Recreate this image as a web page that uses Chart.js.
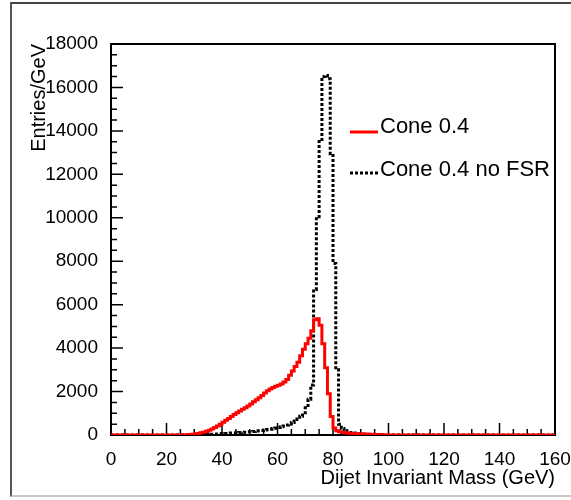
<!DOCTYPE html>
<html>
<head>
<meta charset="utf-8">
<script src="https://cdn.jsdelivr.net/npm/chart.js@4.4.0/dist/chart.umd.min.js"></script>
<style>
  body { margin: 0; background: #fff; }
  #wrap { position: relative; width: 571px; height: 500px; overflow: hidden; }
  #frame { position: absolute; left: 10px; top: 2px; width: 600px; height: 491px;
           border-left: 2px solid #555; border-top: 2px solid #444; border-bottom: 2px solid #c8c8c8; }
  #massChart { position: absolute; left: 0; top: 0; }
</style>
</head>
<body>
<div id="wrap">
  <div id="frame"></div>
  <canvas id="massChart" width="571" height="500"></canvas>
</div>
<script>
// histogram: 1 GeV bins from 0 to 160, value = entries per GeV in that bin
const xMin = 0, xMax = 160, binWidth = 1;
const yMin = 0, yMax = 18000;

const coneValues = [
  0, 0, 0, 0, 0, 0, 0, 0, 0, 0,
  0, 0, 0, 0, 0, 0, 0, 0, 0, 0,
  0, 0, 0, 0, 0, 5, 10, 15, 20, 30,
  50, 70, 100, 130, 170, 220, 280, 340, 420, 500,
  590, 680, 760, 850, 940, 1020, 1100, 1180, 1260, 1340,
  1430, 1530, 1620, 1720, 1820, 1930, 2040, 2120, 2190, 2240,
  2290, 2350, 2440, 2550, 2750, 2950, 3150, 3350, 3650, 3950,
  4200, 4450, 4800, 5300, 5350, 5050, 4200, 3100, 1900, 850,
  320, 200, 150, 120, 100, 90, 80, 70, 60, 55,
  50, 45, 40, 35, 30, 25, 20, 15, 10, 10,
  5, 5, 0, 0, 0, 0, 0, 0, 0, 0,
  0, 0, 0, 0, 0, 0, 0, 0, 0, 0,
  0, 0, 0, 0, 0, 0, 0, 0, 0, 0,
  0, 0, 0, 0, 0, 0, 0, 0, 0, 0,
  0, 0, 0, 0, 0, 0, 0, 0, 0, 0,
  0, 0, 0, 0, 0, 0, 0, 0, 0, 0
];

const noFsrValues = [
  0, 0, 0, 0, 0, 0, 0, 0, 0, 0,
  0, 0, 0, 0, 0, 0, 0, 0, 0, 0,
  0, 0, 0, 0, 0, 0, 0, 0, 5, 5,
  10, 15, 20, 25, 30, 35, 40, 45, 50, 60,
  65, 70, 80, 90, 95, 100, 110, 120, 130, 145,
  155, 165, 180, 195, 210, 230, 250, 270, 295, 320,
  350, 380, 420, 460, 510, 570, 640, 740, 860, 1020,
  1250, 1650, 2300, 6700, 10050, 13600, 16500, 16550, 16400, 12950,
  7900, 3000, 500, 300, 200, 150, 110, 90, 70, 55,
  45, 35, 30, 25, 20, 15, 10, 10, 5, 5,
  0, 0, 0, 0, 0, 0, 0, 0, 0, 0,
  0, 0, 0, 0, 0, 0, 0, 0, 0, 0,
  0, 0, 0, 0, 0, 0, 0, 0, 0, 0,
  0, 0, 0, 0, 0, 0, 0, 0, 0, 0,
  0, 0, 0, 0, 0, 0, 0, 0, 0, 0,
  0, 0, 0, 0, 0, 0, 0, 0, 0, 0
];

const seriesLabels = ['Cone 0.4', 'Cone 0.4 no FSR'];
const xTitle = 'Dijet Invariant Mass (GeV)';
const yTitle = 'Entries/GeV';

const fontFam = '"Liberation Sans", Arial, Helvetica, sans-serif';

function toSteps(values) {
  const pts = values.map((v, i) => ({ x: xMin + i * binWidth, y: v }));
  pts.push({ x: xMin + values.length * binWidth, y: values[values.length - 1] });
  return pts;
}

// frame, inward ticks (ROOT style) and the legend
const rootStyle = {
  id: 'rootStyle',
  beforeDatasetsDraw(chart) {
    const { ctx, chartArea: a } = chart;
    const xs = chart.scales.x, ys = chart.scales.y;
    ctx.save();
    ctx.strokeStyle = '#000';
    ctx.lineWidth = 2;
    ctx.strokeRect(a.left, a.top, a.right - a.left, a.bottom - a.top);
    ctx.lineWidth = 1.5;
    ctx.beginPath();
    for (let v = xMin; v <= xMax; v += 5) {
      const px = xs.getPixelForValue(v);
      const len = v % 20 === 0 ? 12 : 6;
      ctx.moveTo(px, a.bottom);
      ctx.lineTo(px, a.bottom - len);
    }
    for (let v = yMin; v <= yMax; v += 500) {
      const py = ys.getPixelForValue(v);
      const len = v % 2000 === 0 ? 12 : 6;
      ctx.moveTo(a.left, py);
      ctx.lineTo(a.left + len, py);
    }
    ctx.stroke();
    ctx.restore();
  },
  afterDatasetsDraw(chart) {
    const ctx = chart.ctx;
    const rows = [{ line: 132, text: 127 }, { line: 173, text: 170 }];
    ctx.save();
    chart.data.datasets.forEach((ds, i) => {
      ctx.strokeStyle = ds.borderColor;
      ctx.lineWidth = ds.borderWidth;
      ctx.setLineDash(ds.borderDash || []);
      ctx.beginPath();
      ctx.moveTo(350, rows[i].line);
      ctx.lineTo(378, rows[i].line);
      ctx.stroke();
      ctx.setLineDash([]);
      ctx.fillStyle = '#000';
      ctx.font = '22px ' + fontFam;
      ctx.textBaseline = 'middle';
      ctx.textAlign = 'left';
      ctx.fillText(ds.label, 380, rows[i].text);
    });
    ctx.restore();
  }
};

new Chart(document.getElementById('massChart'), {
  type: 'line',
  data: {
    datasets: [{
      label: seriesLabels[0],
      data: toSteps(coneValues),
      borderColor: '#ff0000',
      borderWidth: 3,
      stepped: true,
      pointRadius: 0,
      fill: false
    }, {
      label: seriesLabels[1],
      data: toSteps(noFsrValues),
      borderColor: '#000000',
      borderWidth: 3,
      borderDash: [3, 2],
      stepped: true,
      pointRadius: 0,
      fill: false
    }]
  },
  options: {
    responsive: false,
    animation: false,
    devicePixelRatio: 1,
    layout: { padding: { top: 44, right: 16, left: 0, bottom: 0 } },
    plugins: { legend: { display: false }, tooltip: { enabled: false } },
    scales: {
      x: {
        type: 'linear',
        min: xMin,
        max: xMax,
        afterFit(s) { s.height = 65; s.paddingLeft = 0; s.paddingRight = 0; },
        grid: { display: false },
        border: { display: false },
        ticks: {
          stepSize: 20, autoSkip: false, maxRotation: 0, padding: 5,
          color: '#000', font: { family: fontFam, size: 19 },
          callback: v => String(v)
        },
        title: {
          display: true, text: xTitle, align: 'end', color: '#000',
          font: { family: fontFam, size: 20 }, padding: { top: 0, bottom: 10 }
        }
      },
      y: {
        type: 'linear',
        min: yMin,
        max: yMax,
        afterFit(s) { s.width = 111; s.paddingTop = 0; s.paddingBottom = 0; },
        grid: { display: false },
        border: { display: false },
        ticks: {
          stepSize: 2000, padding: 5,
          color: '#000', font: { family: fontFam, size: 19 },
          callback: v => String(v)
        },
        title: {
          display: true, text: yTitle, align: 'end', color: '#000',
          font: { family: fontFam, size: 20 }, padding: { top: 27, bottom: 0 }
        }
      }
    }
  },
  plugins: [rootStyle]
});
</script>
</body>
</html>
